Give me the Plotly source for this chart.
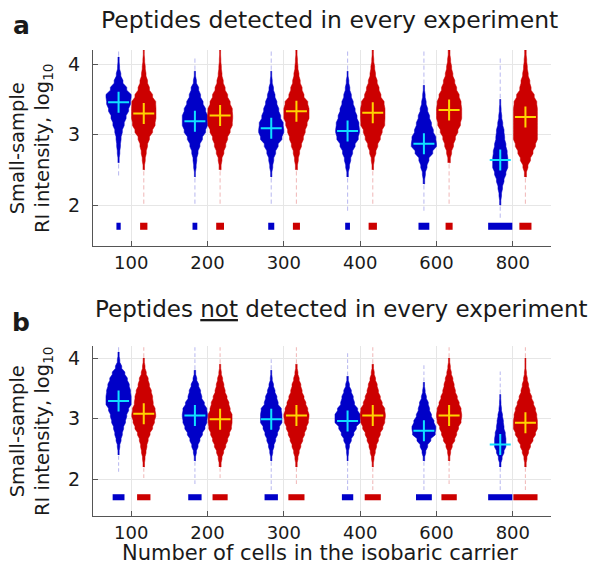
import plotly.graph_objects as go

# ---------------- data ----------------
categories = ["100", "200", "300", "400", "600", "800"]

# histogram bins (log10 intensity): 24 bins of 0.1 from 1.8 to 4.2
bin_edges_low = [1.8, 1.9, 2.0, 2.1, 2.2, 2.3, 2.4, 2.5, 2.6, 2.7, 2.8, 2.9,
                 3.0, 3.1, 3.2, 3.3, 3.4, 3.5, 3.6, 3.7, 3.8, 3.9, 4.0, 4.1]

# relative violin widths per bin (1 = widest violin)
a_blue = [
    [0, 0, 0, 0, 0, 0, 0.02, 0.03, 0.05, 0.1, 0.15, 0.2, 0.3, 0.45, 0.6, 0.8, 0.95, 1.0, 0.65, 0.35, 0.18, 0.08, 0.05, 0.03],
    [0, 0, 0.02, 0.02, 0.02, 0.02, 0.04, 0.1, 0.15, 0.25, 0.4, 0.6, 0.85, 1.0, 1.0, 0.85, 0.65, 0.45, 0.3, 0.12, 0.05, 0.03, 0.02, 0],
    [0, 0, 0.02, 0.02, 0.02, 0.02, 0.05, 0.12, 0.2, 0.35, 0.55, 0.85, 1.0, 0.95, 0.75, 0.6, 0.45, 0.3, 0.18, 0.08, 0.04, 0.02, 0.02, 0.02],
    [0, 0.02, 0.02, 0.02, 0.02, 0.02, 0.06, 0.15, 0.25, 0.4, 0.6, 0.85, 0.95, 0.9, 0.75, 0.6, 0.45, 0.3, 0.18, 0.1, 0.04, 0.02, 0.02, 0.02],
    [0, 0.02, 0.02, 0.02, 0.02, 0.06, 0.12, 0.25, 0.4, 0.7, 1.0, 0.95, 0.75, 0.6, 0.45, 0.3, 0.18, 0.1, 0.05, 0.02, 0.02, 0.02, 0.02, 0.02],
    [0.03, 0.03, 0.05, 0.1, 0.18, 0.3, 0.45, 0.6, 0.6, 0.55, 0.45, 0.35, 0.3, 0.2, 0.12, 0.07, 0.04, 0.02, 0.02, 0.02, 0.02, 0.02, 0.02, 0],
]
a_red = [
    [0, 0, 0.02, 0.02, 0.02, 0.02, 0.02, 0.06, 0.12, 0.2, 0.3, 0.45, 0.7, 0.9, 0.97, 0.97, 0.95, 0.7, 0.45, 0.3, 0.18, 0.12, 0.07, 0.04],
    [0, 0, 0.02, 0.02, 0.02, 0.02, 0.02, 0.08, 0.15, 0.3, 0.45, 0.6, 0.8, 0.97, 1.0, 0.97, 0.8, 0.6, 0.4, 0.25, 0.15, 0.1, 0.06, 0.04],
    [0, 0, 0.02, 0.02, 0.02, 0.02, 0.02, 0.08, 0.15, 0.25, 0.4, 0.55, 0.7, 0.85, 1.0, 1.0, 0.9, 0.6, 0.45, 0.3, 0.2, 0.12, 0.08, 0.05],
    [0, 0, 0.02, 0.02, 0.02, 0.02, 0.02, 0.06, 0.12, 0.25, 0.4, 0.6, 0.75, 0.95, 0.97, 0.97, 0.9, 0.65, 0.5, 0.35, 0.22, 0.15, 0.08, 0.05],
    [0, 0, 0.02, 0.02, 0.02, 0.02, 0.02, 0.02, 0.1, 0.2, 0.35, 0.5, 0.7, 0.9, 1.0, 1.0, 0.95, 0.8, 0.6, 0.45, 0.3, 0.2, 0.12, 0.07],
    [0, 0, 0.03, 0.03, 0.03, 0.03, 0.08, 0.2, 0.4, 0.6, 0.8, 0.95, 0.95, 0.95, 0.95, 0.95, 0.9, 0.7, 0.45, 0.35, 0.22, 0.15, 0.1, 0.06],
]
b_blue = [
    [0, 0, 0, 0.02, 0.02, 0.02, 0.05, 0.1, 0.2, 0.3, 0.4, 0.55, 0.65, 0.8, 1.0, 1.0, 0.95, 0.85, 0.7, 0.5, 0.25, 0.1, 0.05, 0.02],
    [0, 0.02, 0.02, 0.02, 0.02, 0.05, 0.12, 0.25, 0.4, 0.6, 0.8, 0.95, 1.0, 0.95, 0.75, 0.55, 0.45, 0.3, 0.15, 0.06, 0.02, 0.02, 0.02, 0.02],
    [0.02, 0.02, 0.02, 0.02, 0.02, 0.05, 0.12, 0.22, 0.35, 0.5, 0.65, 0.85, 0.85, 0.8, 0.55, 0.45, 0.3, 0.18, 0.08, 0.04, 0.02, 0.02, 0, 0],
    [0.02, 0.02, 0.02, 0.02, 0.02, 0.04, 0.08, 0.15, 0.3, 0.5, 0.7, 1.0, 1.0, 0.8, 0.55, 0.45, 0.3, 0.15, 0.06, 0.03, 0.02, 0.02, 0.02, 0],
    [0.03, 0.03, 0.03, 0.03, 0.03, 0.06, 0.15, 0.3, 0.55, 0.9, 0.95, 0.8, 0.6, 0.45, 0.35, 0.2, 0.1, 0.05, 0.02, 0.02, 0.02, 0, 0, 0],
    [0.03, 0.03, 0.03, 0.03, 0.06, 0.15, 0.3, 0.45, 0.45, 0.4, 0.3, 0.25, 0.18, 0.1, 0.06, 0.04, 0.02, 0.02, 0.02, 0.02, 0, 0, 0, 0],
]
b_red = [
    [0, 0, 0.02, 0.02, 0.06, 0.1, 0.18, 0.25, 0.35, 0.5, 0.7, 0.85, 0.95, 0.9, 0.75, 0.7, 0.6, 0.45, 0.35, 0.2, 0.1, 0.05, 0.02, 0.02],
    [0, 0, 0.02, 0.02, 0.08, 0.15, 0.28, 0.45, 0.6, 0.75, 0.9, 0.95, 0.95, 0.8, 0.7, 0.55, 0.4, 0.3, 0.2, 0.1, 0.05, 0.02, 0.02, 0.02],
    [0, 0.02, 0.02, 0.02, 0.06, 0.12, 0.22, 0.35, 0.5, 0.65, 0.8, 0.95, 1.0, 0.9, 0.75, 0.6, 0.45, 0.35, 0.22, 0.12, 0.06, 0.02, 0.02, 0.02],
    [0.02, 0.02, 0.02, 0.02, 0.05, 0.1, 0.2, 0.3, 0.45, 0.6, 0.8, 0.95, 1.0, 0.95, 0.75, 0.6, 0.45, 0.35, 0.22, 0.12, 0.06, 0.02, 0.02, 0.02],
    [0, 0.02, 0.02, 0.02, 0.02, 0.06, 0.12, 0.25, 0.45, 0.6, 0.75, 0.95, 1.0, 0.95, 0.8, 0.65, 0.5, 0.4, 0.3, 0.18, 0.1, 0.05, 0.02, 0.02],
    [0.02, 0.02, 0.02, 0.02, 0.06, 0.12, 0.25, 0.4, 0.6, 0.8, 0.95, 0.95, 0.9, 0.8, 0.65, 0.5, 0.35, 0.25, 0.15, 0.08, 0.04, 0.04, 0.02, 0.02],
]

# medians (crosses)
a_blue_median = [3.46, 3.19, 3.09, 3.05, 2.87, 2.64]
a_red_median = [3.30, 3.27, 3.33, 3.31, 3.35, 3.25]
b_blue_median = [3.29, 3.05, 2.99, 2.96, 2.80, 2.57]
b_red_median = [3.08, 2.99, 3.05, 3.05, 3.05, 2.93]

# relative widths of the "missing value" bars
a_blue_missing = [0.17, 0.19, 0.24, 0.19, 0.43, 0.96]
a_red_missing = [0.29, 0.31, 0.28, 0.33, 0.28, 0.48]
b_blue_missing = [0.47, 0.53, 0.53, 0.45, 0.63, 0.96]
b_red_missing = [0.53, 0.60, 0.64, 0.64, 0.61, 0.96]

# ---------------- styling ----------------
BIN = 0.1
INSET = 0.03         # flat part of each step stops this far from the bin edge
MISSING_Y = 1.7
MAXW = 0.33          # full width (x units) of relative width 1
OFFSET = 0.165       # distance of each violin from the category tick
FAINT = 0.03
BLUE, BLUE_FAINT = "#0000C8", "rgba(0,0,200,0.25)"
RED, RED_FAINT = "#CC0000", "rgba(204,0,0,0.25)"
CYAN, YELLOW = "#10E0FF", "#FFD400"
FONT = "DejaVu Sans, Liberation Sans, Arial, sans-serif"
TXT = "#1a1a1a"

fig = go.Figure()


def add_violins(widths, medians, missing, sign, col, faint, cross_col, xa, ya):
    for k, prof in enumerate(widths):
        center = (k + 1) + sign * OFFSET
        body = []            # (lo, hi, halfwidth) of solid bins
        fy, fx, fb = [], [], []
        for i, w in enumerate(prof):
            lo = round(bin_edges_low[i], 3)
            if w <= 0:
                continue
            if w <= FAINT:
                full = 0.045 * MAXW
                fy.append(lo + BIN / 2)
                fx.append(full)
                fb.append(center - full / 2)
                continue
            body.append((lo, lo + BIN, w * MAXW / 2))
        right = []
        for j, (lo, hi, hw) in enumerate(body):
            y0 = lo if j == 0 else lo + INSET
            y1 = hi if j == len(body) - 1 else hi - INSET
            right += [(center + hw, y0), (center + hw, y1)]
        left = [(2 * center - x, y) for x, y in right]
        pts = [(center, body[0][0])] + right + [(center, body[-1][1])] + left[::-1]
        fig.add_trace(go.Scatter(x=[p[0] for p in pts], y=[p[1] for p in pts],
                                 mode="lines", fill="toself", fillcolor=col,
                                 line=dict(width=0.5, color=col, simplify=False),
                                 xaxis=xa, yaxis=ya, showlegend=False, hoverinfo="skip"))
        mw = missing[k] * MAXW
        fig.add_trace(go.Bar(orientation="h", y=fy + [MISSING_Y], x=fx + [mw],
                             base=fb + [center - mw / 2],
                             width=[BIN * 0.6] * len(fy) + [BIN],
                             marker=dict(color=[faint] * len(fy) + [col], line=dict(width=0)),
                             xaxis=xa, yaxis=ya, showlegend=False, hoverinfo="skip"))
        fig.add_trace(go.Scatter(x=[center], y=[medians[k]], mode="markers",
                                 marker=dict(symbol="cross-thin", size=15,
                                             line=dict(width=2, color=cross_col)),
                                 xaxis=xa, yaxis=ya, showlegend=False, hoverinfo="skip"))


add_violins(a_blue, a_blue_median, a_blue_missing, -1, BLUE, BLUE_FAINT, CYAN, "x", "y")
add_violins(a_red, a_red_median, a_red_missing, +1, RED, RED_FAINT, YELLOW, "x", "y")
add_violins(b_blue, b_blue_median, b_blue_missing, -1, BLUE, BLUE_FAINT, CYAN, "x2", "y2")
add_violins(b_red, b_red_median, b_red_missing, +1, RED, RED_FAINT, YELLOW, "x2", "y2")

W, H = 600, 564
xdom = [85 / W, 543 / W]


def xaxis(anchor):
    return dict(domain=xdom, range=[0.5, 6.5], tickvals=[1, 2, 3, 4, 5, 6],
                ticktext=categories, showgrid=True, gridcolor="#e6e6e6", gridwidth=1,
                ticks="inside", ticklen=5, tickcolor="#555", showline=True,
                linecolor="#555", linewidth=1, zeroline=False, anchor=anchor,
                tickfont=dict(family=FONT, size=18, color=TXT), ticklabelstandoff=0,
                fixedrange=True)


def yaxis(anchor, dom, rng):
    return dict(domain=dom, range=rng, tickvals=[2, 3, 4], showgrid=True,
                gridcolor="#e6e6e6", gridwidth=1, ticks="inside", ticklen=5,
                tickcolor="#555", showline=True, linecolor="#555", linewidth=1,
                zeroline=False, anchor=anchor, ticklabelstandoff=8,
                tickfont=dict(family=FONT, size=19, color=TXT), fixedrange=True)


fig.update_layout(
    width=W, height=H, margin=dict(l=0, r=0, t=0, b=0),
    paper_bgcolor="white", plot_bgcolor="white", barmode="overlay",
    xaxis=xaxis("y"),
    yaxis=yaxis("x", [1 - 238 / H, 1 - 42 / H], [1.42, 4.2]),
    xaxis2=xaxis("y2"),
    yaxis2=yaxis("x2", [1 - 508 / H, 1 - 338 / H], [1.39, 4.2]),
    font=dict(family=FONT, color=TXT),
)

ann = [
    dict(text="Peptides detected in every experiment", x=91 / W, y=1.0, yshift=4,
         font=dict(size=23.5), xanchor="left", yanchor="top"),
    dict(text="Peptides <u>not</u> detected in every experiment", x=85 / W, y=1 - 301 / H,
         font=dict(size=23), xanchor="left"),
    dict(text="<b>a</b>", x=13 / W, y=1 - 18 / H, font=dict(size=25)),
    dict(text="<b>b</b>", x=13 / W, y=1 - 315 / H, font=dict(size=25)),
    dict(text="Small-sample<br>RI intensity, log<sub>10</sub>", x=23 / W, y=1 - 140 / H,
         textangle=-90, font=dict(size=19.5)),
    dict(text="Small-sample<br>RI intensity, log<sub>10</sub>", x=23 / W, y=1 - 423 / H,
         textangle=-90, font=dict(size=19.5)),
    dict(text="Number of cells in the isobaric carrier", x=312 / W, y=1 - 545 / H,
         font=dict(size=21)),
]
for a in ann:
    a.setdefault("xanchor", "center")
    a.setdefault("yanchor", "middle")
    a.update(xref="paper", yref="paper", showarrow=False)
    a["font"].update(family=FONT, color=TXT)
fig.update_layout(annotations=ann)

fig.write_html("out.html")
